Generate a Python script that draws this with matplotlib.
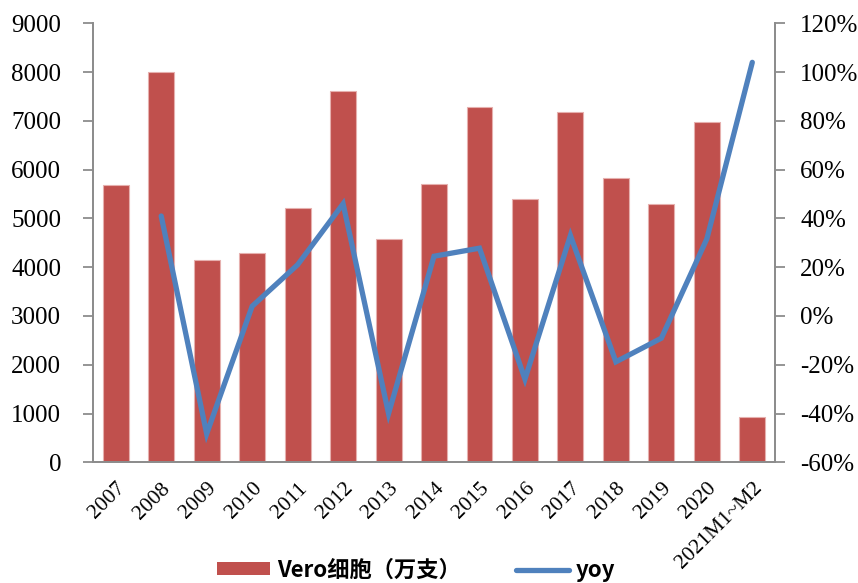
import matplotlib
matplotlib.use("Agg")
import matplotlib.pyplot as plt
import numpy as np
from matplotlib.ticker import FuncFormatter, MultipleLocator
from matplotlib.lines import Line2D
from matplotlib.patches import Patch
import matplotlib.transforms as mtransforms

categories = ["2007", "2008", "2009", "2010", "2011", "2012", "2013", "2014",
              "2015", "2016", "2017", "2018", "2019", "2020", "2021M1~M2"]
vero = [5690, 8010, 4140, 4300, 5210, 7610, 4570, 5700, 7280, 5395, 7180, 5826, 5293, 6967, 925]
yoy = [np.nan, 0.41, -0.483, 0.04, 0.21, 0.46, -0.40, 0.245, 0.278, -0.259, 0.33, -0.188, -0.091, 0.316, 1.04]

bar_color = "#C0504D"
line_color = "#4F81BD"
spine_color = "#8C8C8C"
serif = ["Liberation Serif", "DejaVu Serif"]
cjk = ["Noto Sans CJK SC", "DejaVu Sans"]

plt.rcParams["font.family"] = serif

fig = plt.figure(figsize=(8.58, 5.83), dpi=100)
ax = fig.add_axes([0.1084, 0.207, 0.9033 - 0.1084, 0.96 - 0.207])
ax2 = ax.twinx()

x = np.arange(len(categories))
ax.bar(x, vero, width=0.57, color=bar_color, edgecolor="#E6B0AE", linewidth=0.8, zorder=2)
ax2.plot(x, yoy, color=line_color, linewidth=3.8, solid_capstyle="round",
         solid_joinstyle="miter", zorder=3)

ax.set_xlim(-0.5, len(categories) - 0.5)
ax.set_ylim(0, 9000)
ax.yaxis.set_major_locator(MultipleLocator(1000))
ax2.set_ylim(-0.6, 1.2)
ax2.yaxis.set_major_locator(MultipleLocator(0.2))
ax2.yaxis.set_major_formatter(FuncFormatter(lambda v, p: f"{v*100:.0f}%"))

for a in (ax, ax2):
    a.spines["top"].set_visible(False)
    for s in a.spines.values():
        s.set_color(spine_color)
        s.set_linewidth(1.3)

ax.tick_params(axis="y", direction="out", length=7, width=1.3, color=spine_color,
               pad=16, labelsize=18)
ax2.tick_params(axis="y", direction="out", length=7, width=1.3, color=spine_color,
                pad=11, labelsize=18)
ax.tick_params(axis="x", length=0, pad=4)

ax.set_xticks(x)
ax.set_xticklabels(categories, rotation=45, ha="right", va="top",
                   rotation_mode="anchor", fontsize=15.5, family=serif)
offset = mtransforms.ScaledTranslation(0 / 72, -8 / 72, fig.dpi_scale_trans)
for lab in ax.get_xticklabels():
    lab.set_transform(lab.get_transform() + offset)

handles = [Patch(facecolor=bar_color, edgecolor="none"),
           Line2D([0], [0], color=line_color, linewidth=3.8, solid_capstyle="round")]
leg = fig.legend(handles, ["Vero细胞（万支）", "yoy"], loc="center",
                 bbox_to_anchor=(0.485, 0.022), ncol=2, frameon=False,
                 prop={"family": cjk, "weight": "bold", "size": 16},
                 handlelength=2.4, handleheight=0.5, handletextpad=0.3,
                 columnspacing=2.5)

fig.savefig("out.png", dpi=100)
